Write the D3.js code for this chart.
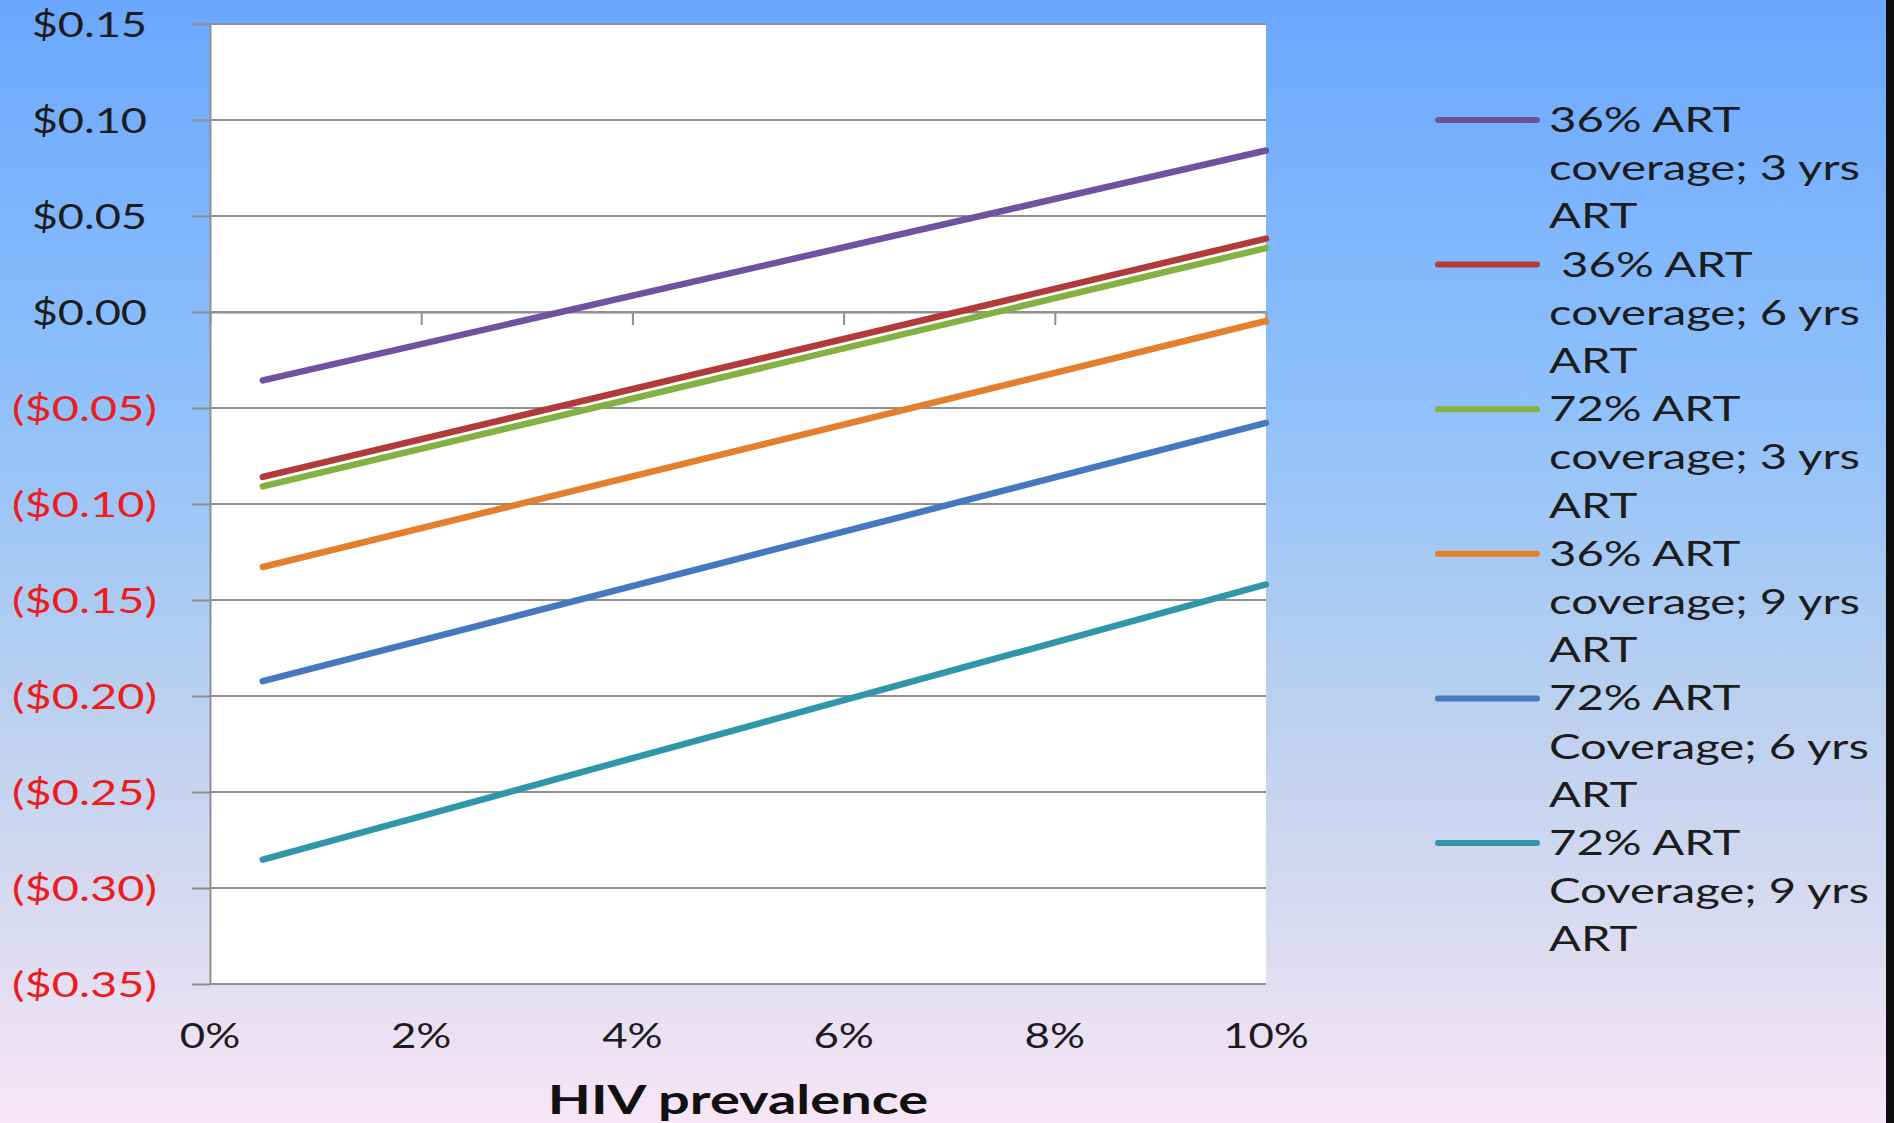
<!DOCTYPE html>
<html>
<head>
<meta charset="utf-8">
<script src="https://cdn.jsdelivr.net/npm/d3@7"></script>
<style>
  html, body { margin: 0; padding: 0; overflow: hidden; }
  svg { display: block; }
  text { font-family: Lato, "Open Sans", sans-serif; white-space: pre; }
</style>
</head>
<body>
<svg id="chart" width="1894" height="1123"></svg>
<script>
// ---- data ----
const prevalence = [0.005, 0.10];

const cov36yrs3 = [-0.0356, 0.0841];
const cov36yrs6 = [-0.0859, 0.0382];
const cov72yrs3 = [-0.0908, 0.0333];
const cov36yrs9 = [-0.1328, -0.0047];
const cov72yrs6 = [-0.1923, -0.0578];
const cov72yrs9 = [-0.2852, -0.1419];

const legendLabels = [
  ["36% ART", "coverage; 3 yrs", "ART"],
  [" 36% ART", "coverage; 6 yrs", "ART"],
  ["72% ART", "coverage; 3 yrs", "ART"],
  ["36% ART", "coverage; 9 yrs", "ART"],
  ["72% ART", "Coverage; 6 yrs", "ART"],
  ["72% ART", "Coverage; 9 yrs", "ART"]
];

const yTicks = [0.15, 0.10, 0.05, 0.00, -0.05, -0.10, -0.15, -0.20, -0.25, -0.30, -0.35];
const xTicks = [0, 0.02, 0.04, 0.06, 0.08, 0.10];
const xTitle = "HIV prevalence";

// ---- layout & style ----
const W = 1894, H = 1123;
const seriesValues = [cov36yrs3, cov36yrs6, cov72yrs3, cov36yrs9, cov72yrs6, cov72yrs9];
const seriesColors = ["#7152a0", "#b33a3a", "#85b042", "#e4802d", "#4678c0", "#3097aa"];
// slide text is drawn horizontally widened
const stretchPos = 1.29, stretchNeg = 1.34, stretchX = 1.25, stretchTitle = 1.40, stretchLegend = 1.35;
const textDark = "#1c1c1c";
const textRed = "#ee1c1c";
const gridGrey = "#8f8f8f";

const svg = d3.select("#chart");

// background gradient
const defs = svg.append("defs");
const grad = defs.append("linearGradient").attr("id", "bg")
  .attr("x1", 0).attr("y1", 0).attr("x2", 0).attr("y2", 1);
[[0, "#6aa7fd"], [0.35, "#8ec0fb"], [0.62, "#b9d0ef"], [0.8, "#d6d9f0"], [1, "#f7e6f6"]]
  .forEach(([o, c]) => grad.append("stop").attr("offset", o).attr("stop-color", c));
svg.append("rect").attr("width", W).attr("height", H).attr("fill", "url(#bg)");
svg.append("rect").attr("x", 1886).attr("y", 0).attr("width", 8).attr("height", H).attr("fill", "#0e0e0e");

const x = d3.scaleLinear().domain([0, 0.10]).range([210, 1266]);
const y = d3.scaleLinear().domain([-0.35, 0.15]).range([984, 24]);

// plot area
svg.append("rect")
  .attr("x", x(0)).attr("y", y(0.15))
  .attr("width", x(0.10) - x(0)).attr("height", y(-0.35) - y(0.15))
  .attr("fill", "#ffffff");

// horizontal gridlines
svg.append("g").selectAll("line").data(yTicks).join("line")
  .attr("x1", x(0)).attr("x2", x(0.10))
  .attr("y1", d => y(d)).attr("y2", d => y(d))
  .attr("stroke", gridGrey).attr("stroke-width", 2);

// y axis with accounting-style labels
const money = d => d < 0 ? `($${Math.abs(d).toFixed(2)})` : `$${d.toFixed(2)}`;
const yAxisG = svg.append("g").attr("transform", `translate(${x(0)},0)`)
  .call(d3.axisLeft(y).tickValues(yTicks).tickSizeInner(18).tickSizeOuter(0).tickFormat(money));
yAxisG.attr("font-size", null).attr("font-family", null);
yAxisG.selectAll("path, line").attr("stroke", gridGrey).attr("stroke-width", 2);
yAxisG.selectAll("text")
  .attr("x", null).attr("dy", null)
  .attr("text-anchor", "end")
  .attr("font-size", 35)
  .attr("fill", d => d < 0 ? textRed : textDark)
  .attr("transform", d => d < 0
    ? `translate(-53,12) scale(${stretchNeg},1)`
    : `translate(-63,12) scale(${stretchPos},1)`);

// x axis crossing at zero, labels along the bottom
const xAxisG = svg.append("g").attr("transform", `translate(0,${y(0)})`)
  .call(d3.axisBottom(x).tickValues(xTicks).tickSizeInner(13).tickSizeOuter(0).tickFormat(""));
xAxisG.selectAll("path, line").attr("stroke", gridGrey).attr("stroke-width", 2);

svg.append("g").selectAll("text").data(xTicks).join("text")
  .attr("text-anchor", "middle")
  .attr("font-size", 35)
  .attr("fill", textDark)
  .attr("transform", d => `translate(${x(d)},1048) scale(${stretchX},1)`)
  .text(d3.format(".0%"));

svg.append("text")
  .attr("text-anchor", "middle")
  .attr("font-size", 40).attr("font-weight", 700)
  .attr("fill", "#111")
  .attr("transform", `translate(${(x(0) + x(0.10)) / 2},1114) scale(${stretchTitle},1)`)
  .text(xTitle);

// series lines
const line = d3.line().x((d, i) => x(prevalence[i])).y(d => y(d));
svg.append("g").selectAll("path").data(seriesValues).join("path")
  .attr("d", line)
  .attr("fill", "none")
  .attr("stroke", (d, i) => seriesColors[i])
  .attr("stroke-width", 6.5)
  .attr("stroke-linecap", "round");

// legend
const legendTop = 120, legendStep = 144.6, lineGap = 48.2;
const leg = svg.append("g").selectAll("g").data(legendLabels).join("g")
  .attr("transform", (d, i) => `translate(0,${legendTop + i * legendStep})`);
leg.append("line")
  .attr("x1", 1438).attr("x2", 1537).attr("y1", 0).attr("y2", 0)
  .attr("stroke", (d, i) => seriesColors[i]).attr("stroke-width", 6).attr("stroke-linecap", "round");
leg.each(function(rows) {
  d3.select(this).selectAll("text").data(rows).join("text")
    .attr("font-size", 35).attr("fill", textDark)
    .attr("transform", (r, j) => `translate(1549,${12 + j * lineGap}) scale(${stretchLegend},1)`)
    .text(r => r);
});
</script>
</body>
</html>
